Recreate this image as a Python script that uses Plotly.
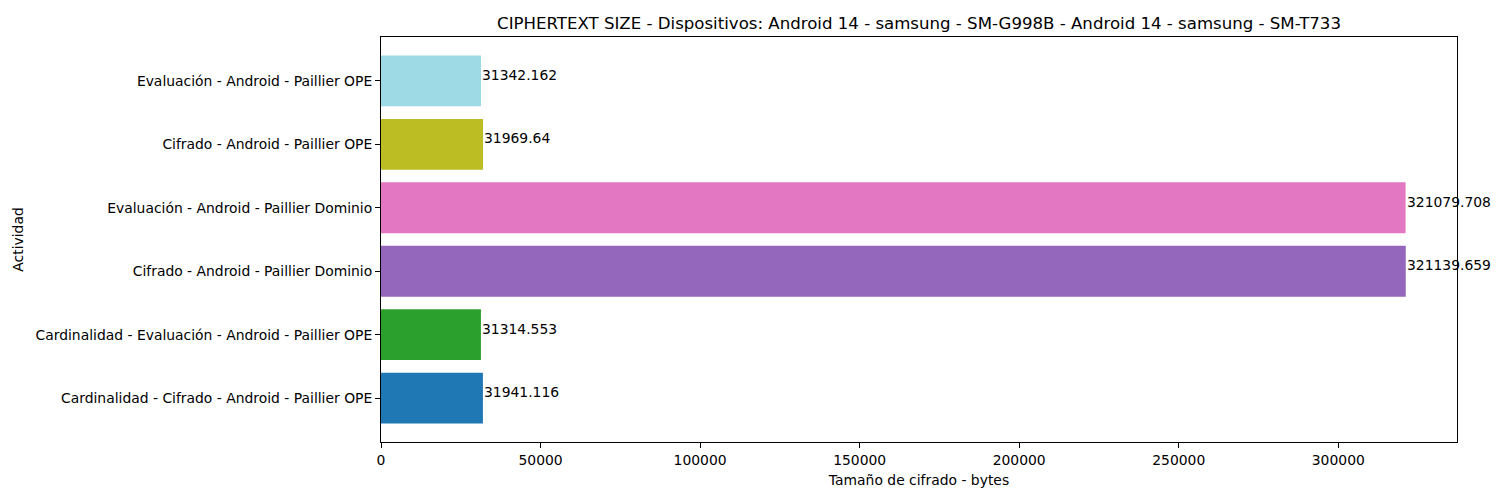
import plotly.graph_objects as go

categories = [
    "Cardinalidad - Cifrado - Android - Paillier OPE",
    "Cardinalidad - Evaluación - Android - Paillier OPE",
    "Cifrado - Android - Paillier Dominio",
    "Evaluación - Android - Paillier Dominio",
    "Cifrado - Android - Paillier OPE",
    "Evaluación - Android - Paillier OPE",
]
values = [31941.116, 31314.553, 321139.659, 321079.708, 31969.64, 31342.162]
labels = ["31941.116", "31314.553", "321139.659", "321079.708", "31969.64", "31342.162"]
colors = ["#1f77b4", "#2ca02c", "#9467bd", "#e377c2", "#bcbd22", "#9edae5"]
x_ticks = [0, 50000, 100000, 150000, 200000, 250000, 300000]

font = "DejaVu Sans"
fs = 13.9
ypos = list(range(len(categories)))

# page body has an 8px margin; figure is sized so the plot lands where the reference's does
W, H = 1492, 492
L, R, T, B = 373, 43, 29, 58

fig = go.Figure()
fig.add_trace(go.Bar(
    x=values, y=ypos, orientation="h", width=0.8,
    marker=dict(color=colors, line=dict(width=0)),
    showlegend=False, hoverinfo="x+y",
))

for i, (v, t) in enumerate(zip(values, labels)):
    fig.add_annotation(x=v, y=i, xref="x", yref="y", text=t, showarrow=False,
                       xanchor="left", yanchor="bottom", yshift=-4, xshift=-1,
                       font=dict(family=font, size=fs, color="black"))

xmax = max(values) * 1.05
fig.update_layout(
    width=W, height=H,
    margin=dict(l=L, r=R, t=T, b=B, autoexpand=False),
    paper_bgcolor="white", plot_bgcolor="white",
    font=dict(family=font, size=fs, color="black"),
    title=dict(text="CIPHERTEXT SIZE - Dispositivos: Android 14 - samsung - SM-G998B - Android 14 - samsung - SM-T733",
               x=(L + (W - R)) / 2 / W, xanchor="center", y=1 - 15 / H, yanchor="middle",
               font=dict(family=font, size=16.6, color="black")),
    xaxis=dict(range=[0, xmax], tickvals=x_ticks, ticktext=[str(t) for t in x_ticks],
               showgrid=False, zeroline=False, showline=True, linecolor="black", linewidth=1,
               mirror=True, ticks="outside", ticklen=5, tickcolor="black", automargin=False,
               title=dict(text="Tamaño de cifrado - bytes", standoff=8,
                          font=dict(family=font, size=fs))),
    yaxis=dict(range=[-0.69, 5.69], tickvals=ypos, ticktext=categories,
               showgrid=False, zeroline=False, showline=True, linecolor="black", linewidth=1,
               mirror=True, ticks="outside", ticklen=5, tickcolor="black", automargin=False,
               title=dict(text="Actividad", standoff=8, font=dict(family=font, size=fs))),
)

fig.write_html("out.html")
